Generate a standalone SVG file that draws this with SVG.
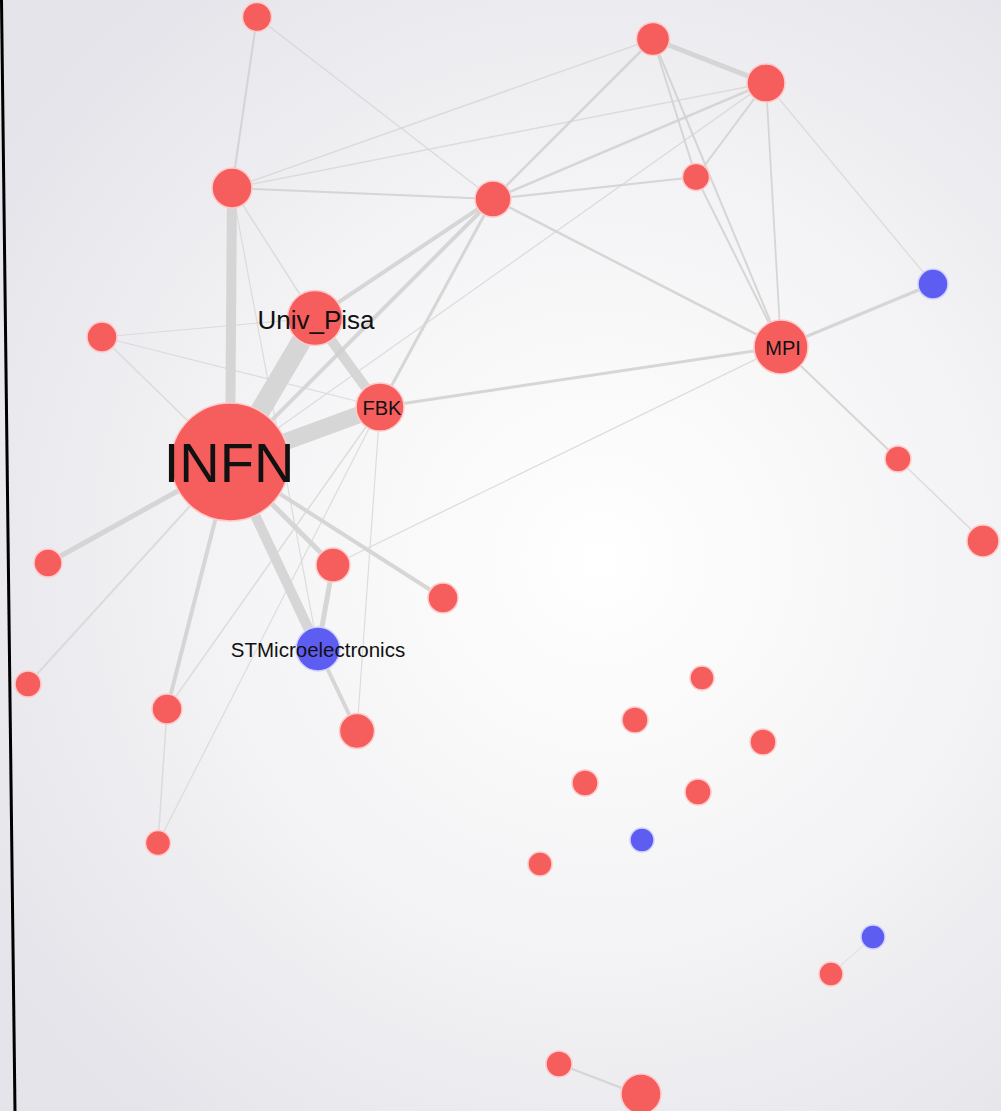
<svg xmlns="http://www.w3.org/2000/svg" width="1001" height="1111" viewBox="0 0 1001 1111">
<defs>
<radialGradient id="bg" cx="600" cy="560" r="720" gradientUnits="userSpaceOnUse">
<stop offset="0" stop-color="#ffffff"/>
<stop offset="0.55" stop-color="#f3f3f5"/>
<stop offset="1" stop-color="#e4e4ea"/>
</radialGradient>
</defs>
<style>
.e{stroke:#d0d0d0;stroke-opacity:0.85;fill:none;stroke-linecap:butt}
.t{stroke:#d6d6d6;stroke-opacity:0.8;fill:none}
.r{fill:#f65d5d;stroke:#ffcaca;stroke-width:1.5}
.b{fill:#5d5df2;stroke:#d2d2ff;stroke-width:1.5}
.lbl{font-family:"Liberation Sans",Arial,sans-serif;fill:#111;text-anchor:middle}
</style>
<rect x="0" y="0" width="1001" height="1111" fill="url(#bg)"/>
<line x1="1.5" y1="0" x2="15" y2="1111" stroke="#000" stroke-width="3"/>
<g id="connectors">
<line class="e" x1="230" y1="462" x2="315" y2="318" stroke-width="20"/>
<line class="e" x1="230" y1="462" x2="380" y2="407" stroke-width="17"/>
<line class="e" x1="230" y1="462" x2="232" y2="188" stroke-width="10"/>
<line class="e" x1="230" y1="462" x2="318" y2="649" stroke-width="10"/>
<line class="e" x1="315" y1="318" x2="380" y2="407" stroke-width="10"/>
<line class="e" x1="230" y1="462" x2="493" y2="199" stroke-width="4"/>
<line class="e" x1="315" y1="318" x2="493" y2="199" stroke-width="4"/>
<line class="e" x1="380" y1="407" x2="493" y2="199" stroke-width="3"/>
<line class="e" x1="230" y1="462" x2="48" y2="563" stroke-width="5"/>
<line class="t" x1="230" y1="462" x2="28" y2="684" stroke-width="2"/>
<line class="e" x1="230" y1="462" x2="167" y2="709" stroke-width="4"/>
<line class="e" x1="230" y1="462" x2="333" y2="565" stroke-width="5"/>
<line class="e" x1="230" y1="462" x2="443" y2="598" stroke-width="4"/>
<line class="t" x1="230" y1="462" x2="102" y2="337" stroke-width="1.5"/>
<line class="e" x1="333" y1="565" x2="318" y2="649" stroke-width="5"/>
<line class="e" x1="318" y1="649" x2="357" y2="731" stroke-width="4"/>
<line class="t" x1="380" y1="407" x2="357" y2="731" stroke-width="1.2"/>
<line class="t" x1="380" y1="407" x2="167" y2="709" stroke-width="1.5"/>
<line class="t" x1="380" y1="407" x2="158" y2="843" stroke-width="1.2"/>
<line class="t" x1="167" y1="709" x2="158" y2="843" stroke-width="1.5"/>
<line class="t" x1="102" y1="337" x2="315" y2="318" stroke-width="1.2"/>
<line class="t" x1="102" y1="337" x2="380" y2="407" stroke-width="1.2"/>
<line class="e" x1="232" y1="188" x2="257" y2="17" stroke-width="2"/>
<line class="e" x1="232" y1="188" x2="493" y2="199" stroke-width="2"/>
<line class="t" x1="232" y1="188" x2="653" y2="39" stroke-width="1.5"/>
<line class="t" x1="232" y1="188" x2="766" y2="83" stroke-width="1.5"/>
<line class="t" x1="232" y1="188" x2="315" y2="318" stroke-width="1.5"/>
<line class="t" x1="232" y1="188" x2="318" y2="649" stroke-width="1.2"/>
<line class="t" x1="257" y1="17" x2="493" y2="199" stroke-width="1.5"/>
<line class="e" x1="493" y1="199" x2="653" y2="39" stroke-width="2.5"/>
<line class="e" x1="493" y1="199" x2="766" y2="83" stroke-width="2.5"/>
<line class="e" x1="493" y1="199" x2="696" y2="177" stroke-width="2"/>
<line class="e" x1="493" y1="199" x2="781" y2="347" stroke-width="2.5"/>
<line class="e" x1="653" y1="39" x2="766" y2="83" stroke-width="5"/>
<line class="e" x1="653" y1="39" x2="696" y2="177" stroke-width="2"/>
<line class="e" x1="653" y1="39" x2="781" y2="347" stroke-width="2"/>
<line class="e" x1="766" y1="83" x2="696" y2="177" stroke-width="2"/>
<line class="e" x1="766" y1="83" x2="781" y2="347" stroke-width="1.8"/>
<line class="t" x1="766" y1="83" x2="933" y2="284" stroke-width="1.3"/>
<line class="t" x1="766" y1="83" x2="230" y2="462" stroke-width="1.3"/>
<line class="e" x1="696" y1="177" x2="781" y2="347" stroke-width="2"/>
<line class="e" x1="781" y1="347" x2="933" y2="284" stroke-width="3"/>
<line class="e" x1="781" y1="347" x2="380" y2="407" stroke-width="3"/>
<line class="t" x1="781" y1="347" x2="333" y2="565" stroke-width="1.3"/>
<line class="e" x1="781" y1="347" x2="898" y2="459" stroke-width="2"/>
<line class="t" x1="898" y1="459" x2="983" y2="541" stroke-width="1.5"/>
<line class="t" x1="873" y1="937" x2="831" y2="974" stroke-width="1"/>
<line class="e" x1="559" y1="1064" x2="640" y2="1095" stroke-width="2"/>
</g>
<g id="n1"><circle class="r" cx="257" cy="17" r="14.5"/></g>
<g id="n2"><circle class="r" cx="232" cy="188" r="20"/></g>
<g id="n3"><circle class="r" cx="102" cy="337" r="15"/></g>
<g id="n-univ-pisa"><circle class="r" cx="315" cy="318" r="27.5"/><text class="lbl" x="316" y="329" font-size="26">Univ_Pisa</text></g>
<g id="n-fbk"><circle class="r" cx="380" cy="407" r="24"/><text class="lbl" x="382" y="415" font-size="20">FBK</text></g>
<g id="n-infn"><circle class="r" cx="230" cy="462" r="59"/><text class="lbl" x="229" y="482" font-size="56">INFN</text></g>
<g id="n7"><circle class="r" cx="48" cy="563" r="14"/></g>
<g id="n8"><circle class="r" cx="28" cy="684" r="13"/></g>
<g id="n9"><circle class="r" cx="167" cy="709" r="15"/></g>
<g id="n10"><circle class="r" cx="158" cy="843" r="12.5"/></g>
<g id="n11"><circle class="r" cx="333" cy="565" r="17"/></g>
<g id="n12"><circle class="r" cx="443" cy="598" r="15"/></g>
<g id="n-stmicro"><circle class="b" cx="318" cy="649" r="22"/><text class="lbl" x="318" y="657" font-size="20.5">STMicroelectronics</text></g>
<g id="n14"><circle class="r" cx="357" cy="731" r="17.5"/></g>
<g id="n15"><circle class="r" cx="493" cy="199" r="18"/></g>
<g id="n16"><circle class="r" cx="653" cy="39" r="16.5"/></g>
<g id="n17"><circle class="r" cx="766" cy="83" r="19"/></g>
<g id="n18"><circle class="r" cx="696" cy="177" r="13.5"/></g>
<g id="n19"><circle class="b" cx="933" cy="284" r="15"/></g>
<g id="n-mpi"><circle class="r" cx="781" cy="347" r="27"/><text class="lbl" x="783" y="355" font-size="20">MPI</text></g>
<g id="n21"><circle class="r" cx="898" cy="459" r="13"/></g>
<g id="n22"><circle class="r" cx="983" cy="541" r="16"/></g>
<g id="n23"><circle class="r" cx="702" cy="678" r="12"/></g>
<g id="n24"><circle class="r" cx="635" cy="720" r="13"/></g>
<g id="n25"><circle class="r" cx="763" cy="742" r="13"/></g>
<g id="n26"><circle class="r" cx="585" cy="783" r="13"/></g>
<g id="n27"><circle class="r" cx="698" cy="792" r="13"/></g>
<g id="n28"><circle class="b" cx="642" cy="840" r="12"/></g>
<g id="n29"><circle class="r" cx="540" cy="864" r="12"/></g>
<g id="n30"><circle class="b" cx="873" cy="937" r="12"/></g>
<g id="n31"><circle class="r" cx="831" cy="974" r="12"/></g>
<g id="n32"><circle class="r" cx="559" cy="1064" r="13"/></g>
<g id="n33"><circle class="r" cx="641" cy="1094" r="20"/></g>
</svg>
